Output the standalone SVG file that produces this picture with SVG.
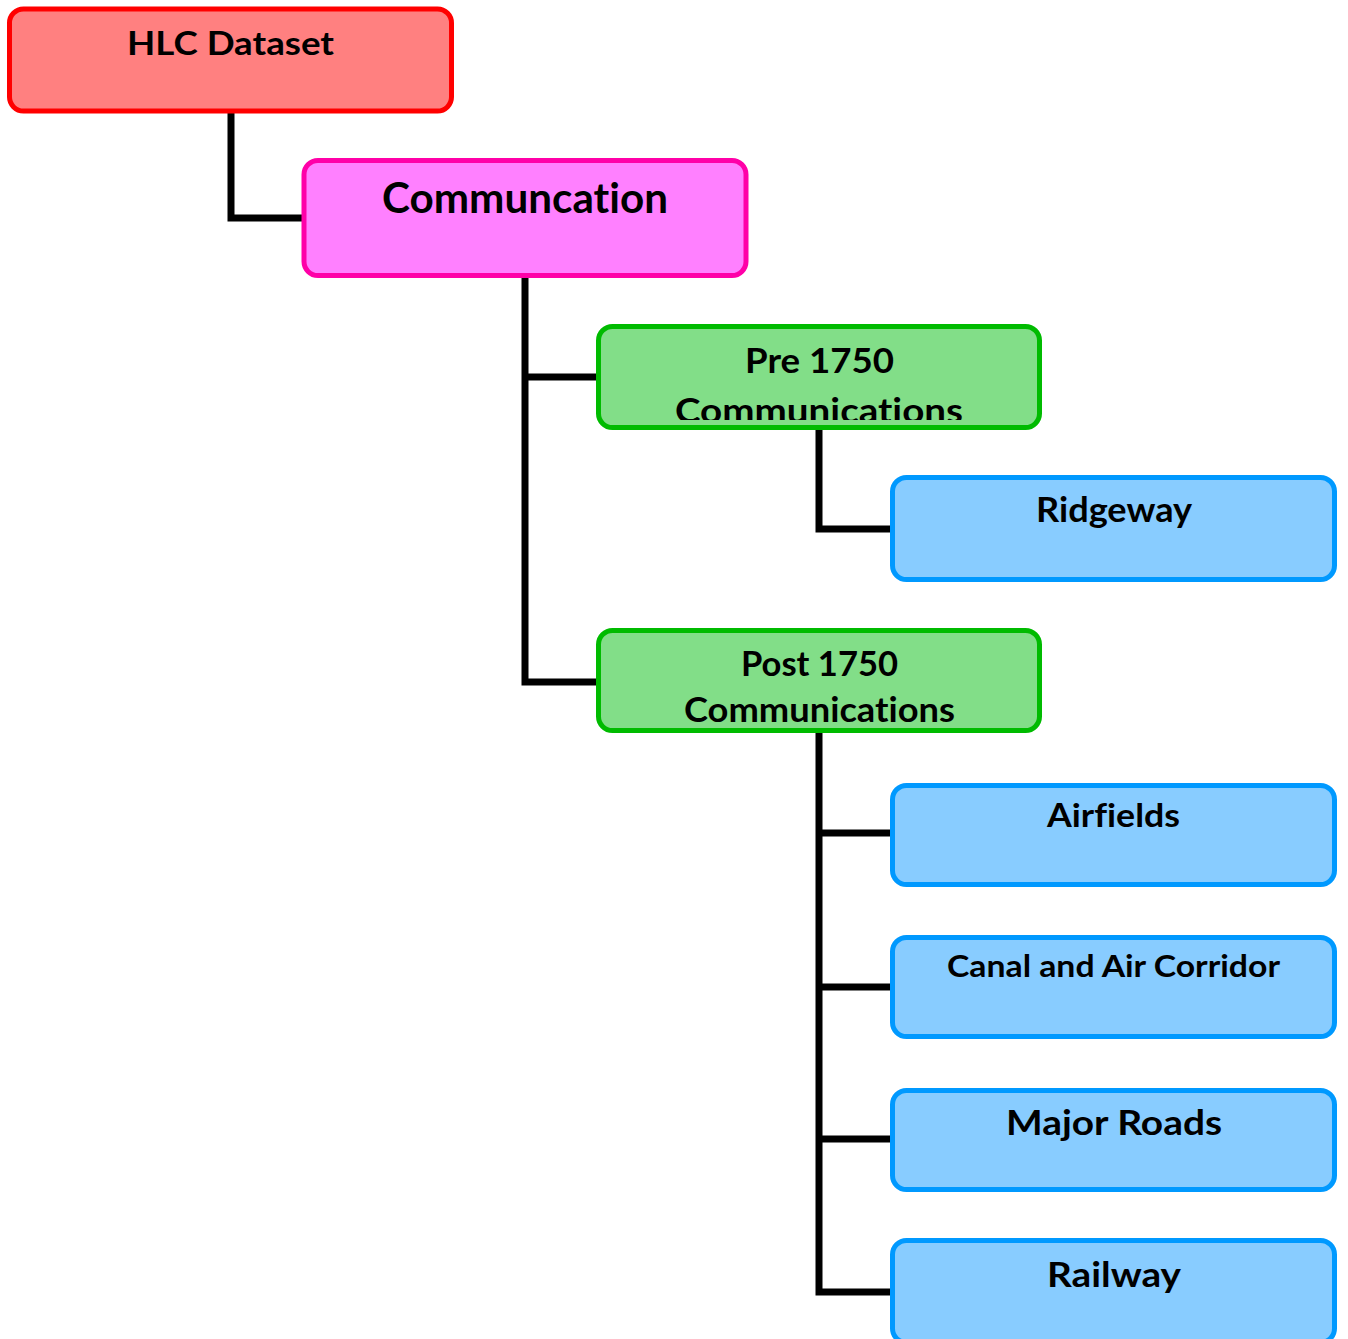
<svg xmlns="http://www.w3.org/2000/svg" width="1348" height="1339" viewBox="0 0 1348 1339">
  <style>
    .box { stroke-width: 5; }
    .red { fill: #FF8080; stroke: #FF0000; }
    .pink { fill: #FF80FF; stroke: #FF00A8; }
    .green { fill: #82DE88; stroke: #00BB00; }
    .blue { fill: #88CCFF; stroke: #0099FF; }
    .lbl { font-family: Lato, "Liberation Sans", sans-serif; font-weight: bold; fill: #000; text-anchor: middle; font-variant-ligatures: none; }
    .wire { fill: none; stroke: #000; stroke-width: 7; stroke-linejoin: miter; stroke-linecap: butt; }
  </style>
  <defs>
    <clipPath id="pre-inner">
      <rect x="601" y="329" width="436" height="91"/>
    </clipPath>
  </defs>
  <rect width="1348" height="1339" fill="#FFFFFF"/>

  <g id="connectors">
    <path class="wire" d="M231 113 V218 H304"/>
    <path class="wire" d="M525 278 V682 H598 M525 377 H598"/>
    <path class="wire" d="M819 430 V529 H892"/>
    <path class="wire" d="M819 733 V1292 H892 M819 833 H892 M819 987 H892 M819 1139 H892"/>
  </g>

  <g id="hlc-dataset">
    <rect class="box red" x="9.5" y="9" width="442" height="102" rx="14"/>
    <text class="lbl" x="230.5" y="55" font-size="32.5" textLength="207" lengthAdjust="spacingAndGlyphs">HLC Dataset</text>
  </g>

  <g id="communcation">
    <rect class="box pink" x="304" y="160.5" width="442" height="115" rx="14"/>
    <text class="lbl" x="525" y="213" font-size="42" textLength="286" lengthAdjust="spacingAndGlyphs">Communcation</text>
  </g>

  <g id="pre-1750">
    <rect class="box green" x="598.5" y="326.5" width="441" height="101" rx="14"/>
    <g clip-path="url(#pre-inner)">
      <text class="lbl" x="819.5" y="373" font-size="35" textLength="149" lengthAdjust="spacingAndGlyphs">Pre 1750</text>
      <text class="lbl" x="819" y="423" font-size="35" textLength="288" lengthAdjust="spacingAndGlyphs">Communications</text>
    </g>
  </g>

  <g id="ridgeway">
    <rect class="box blue" x="892.5" y="477.5" width="442" height="102" rx="14"/>
    <text class="lbl" x="1114" y="522" font-size="33.5" textLength="156" lengthAdjust="spacingAndGlyphs">Ridgeway</text>
  </g>

  <g id="post-1750">
    <rect class="box green" x="598.5" y="630.5" width="441" height="100" rx="14"/>
    <text class="lbl" x="819.5" y="676" font-size="33.5" textLength="157" lengthAdjust="spacingAndGlyphs">Post 1750</text>
    <text class="lbl" x="819.5" y="722" font-size="33.5" textLength="271" lengthAdjust="spacingAndGlyphs">Communications</text>
  </g>

  <g id="airfields">
    <rect class="box blue" x="892.5" y="785.5" width="442" height="99" rx="14"/>
    <text class="lbl" x="1113.5" y="827" font-size="32" textLength="133" lengthAdjust="spacingAndGlyphs">Airfields</text>
  </g>

  <g id="canal-and-air-corridor">
    <rect class="box blue" x="892.5" y="937.5" width="442" height="99" rx="14"/>
    <text class="lbl" x="1113.5" y="977" font-size="31" textLength="333" lengthAdjust="spacingAndGlyphs">Canal and Air Corridor</text>
  </g>

  <g id="major-roads">
    <rect class="box blue" x="892.5" y="1090.5" width="442" height="99" rx="14"/>
    <text class="lbl" x="1114" y="1135" font-size="35" textLength="216" lengthAdjust="spacingAndGlyphs">Major Roads</text>
  </g>

  <g id="railway">
    <rect class="box blue" x="892.5" y="1240.5" width="442" height="102" rx="14"/>
    <text class="lbl" x="1114" y="1287" font-size="33.5" textLength="134" lengthAdjust="spacingAndGlyphs">Railway</text>
  </g>
</svg>
